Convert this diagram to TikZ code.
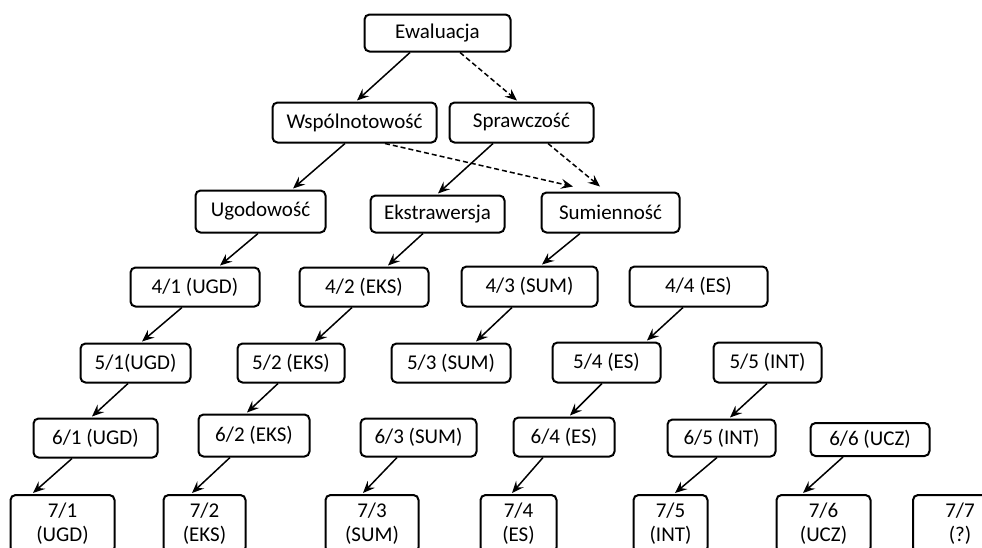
\documentclass[tikz,border=0pt]{standalone}
\usepackage{fontspec}
\setmainfont{Carlito}
\usetikzlibrary{arrows.meta}
\tikzset{
  box/.style={draw, line width=2pt, rounded corners=5pt, inner sep=0pt, font=\fontsize{21}{24}\selectfont},
  lowbox/.style={draw, line width=2pt, rounded corners=5pt, inner xsep=0pt, inner ysep=8pt, anchor=north, align=center, font=\fontsize{21}{24}\selectfont},
  arr/.style={line width=1.5pt, -{Stealth[length=12pt,width=10pt,inset=4.5pt]}},
  darr/.style={arr, dash pattern=on 5pt off 3pt}
}
\begin{document}
\begin{tikzpicture}[x=1pt,y=-1pt]
\useasboundingbox (0,0) rectangle (982,547);
\clip (0,0) rectangle (982,547);
% level 1-2
\node[box, minimum width=146pt, minimum height=37pt] (ew) at (437.5,33) {Ewaluacja};
\node[box, minimum width=164pt, minimum height=40pt] (wsp) at (354.5,122.5) {Wspólnotowość};
\node[box, minimum width=144pt, minimum height=40pt] (spr) at (521.5,122.5) {Sprawczość};
% level 3
\node[box, minimum width=130pt, minimum height=42pt] (ugo) at (260.5,211.5) {Ugodowość};
\node[box, minimum width=134pt, minimum height=37pt] (eks) at (437.5,214) {Ekstrawersja};
\node[box, minimum width=138pt, minimum height=40pt] (sum) at (610.5,212.5) {Sumienność};
% level 4
\node[box, minimum width=129pt, minimum height=39pt] (n41) at (195,287) {4/1 (UGD)};
\node[box, minimum width=129pt, minimum height=39pt] (n42) at (364,287) {4/2 (EKS)};
\node[box, minimum width=136pt, minimum height=40pt] (n43) at (529.5,286.5) {4/3 (SUM)};
\node[box, minimum width=138pt, minimum height=40pt] (n44) at (698.5,286.5) {4/4 (ES)};
% level 5
\node[box, minimum width=110pt, minimum height=39pt] (n51) at (135.5,363) {5/1(UGD)};
\node[box, minimum width=107pt, minimum height=39pt] (n52) at (291,363) {5/2 (EKS)};
\node[box, minimum width=119pt, minimum height=39pt] (n53) at (451,363) {5/3 (SUM)};
\node[box, minimum width=108pt, minimum height=40pt] (n54) at (606.5,362.5) {5/4 (ES)};
\node[box, minimum width=108pt, minimum height=40pt] (n55) at (767.5,362.5) {5/5 (INT)};
% level 6
\node[box, minimum width=124pt, minimum height=39pt] (n61) at (95.5,438) {6/1 (UGD)};
\node[box, minimum width=111pt, minimum height=42pt] (n62) at (254,435.5) {6/2 (EKS)};
\node[box, minimum width=116pt, minimum height=38pt] (n63) at (418.5,437.5) {6/3 (SUM)};
\node[box, minimum width=101pt, minimum height=39pt] (n64) at (564,437) {6/4 (ES)};
\node[box, minimum width=108pt, minimum height=37pt] (n65) at (721.5,438) {6/5 (INT)};
\node[box, minimum width=119pt, minimum height=33pt] (n66) at (870,439.5) {6/6 (UCZ)};
% level 7
\node[lowbox, minimum width=104pt] (n71) at (62.5,494) {7/1\\(UGD)};
\node[lowbox, minimum width=82pt] (n72) at (204.5,494) {7/2\\(EKS)};
\node[lowbox, minimum width=93pt] (n73) at (372,494) {7/3\\(SUM)};
\node[lowbox, minimum width=76pt] (n74) at (518.5,494) {7/4\\(ES)};
\node[lowbox, minimum width=74pt] (n75) at (670.5,494) {7/5\\(INT)};
\node[lowbox, minimum width=94pt] (n76) at (823.5,494) {7/6\\(UCZ)};
\node[lowbox, minimum width=94pt] (n77) at (960,494) {7/7\\(?)};
% connectors
\draw[arr] ([xshift=-27.5pt]ew.south) -- ([xshift=2.5pt,yshift=1pt]wsp.north);
\draw[darr] ([xshift=22.5pt]ew.south) -- ([xshift=-4.5pt,yshift=1pt]spr.north);
\draw[arr] ([xshift=-9.5pt]wsp.south) -- ([xshift=32.5pt,yshift=1pt]ugo.north);
\draw[darr] ([xshift=30.5pt]wsp.south) -- ([xshift=-37.5pt,yshift=5pt]sum.north);
\draw[arr] ([xshift=-28.5pt]spr.south) -- ([xshift=0.5pt,yshift=1pt]eks.north);
\draw[darr] ([xshift=26.5pt]spr.south) -- ([xshift=-10.5pt,yshift=5pt]sum.north);
\draw[arr] ([xshift=-2.5pt]ugo.south) -- ([xshift=25pt,yshift=1pt]n41.north);
\draw[arr] ([xshift=-14.5pt]eks.south) -- ([xshift=24pt,yshift=1pt]n42.north);
\draw[arr] ([xshift=-30.5pt]sum.south) -- ([xshift=12.5pt,yshift=1pt]n43.north);
\draw[arr] ([xshift=-13pt]n41.south) -- ([xshift=6.5pt,yshift=1pt]n51.north);
\draw[arr] ([xshift=-12pt]n42.south) -- ([xshift=24pt,yshift=1pt]n52.north);
\draw[arr] ([xshift=-17.5pt]n43.south) -- ([xshift=25pt,yshift=1pt]n53.north);
\draw[arr] ([xshift=-15.5pt]n44.south) -- ([xshift=40.5pt,yshift=1pt]n54.north);
\draw[arr] ([xshift=-7.5pt]n51.south) -- ([xshift=-3.5pt,yshift=1pt]n61.north);
\draw[arr] ([xshift=-13pt]n52.south) -- ([xshift=-7pt,yshift=1pt]n62.north);
\draw[arr] ([xshift=-4.5pt]n54.south) -- ([xshift=6pt,yshift=1pt]n64.north);
\draw[arr] ([xshift=-0.5pt]n55.south) -- ([xshift=8.5pt,yshift=1pt]n65.north);
\draw[arr] ([xshift=-23.5pt]n61.south) -- ([xshift=-29.5pt,yshift=1pt]n71.north);
\draw[arr] ([xshift=-24pt]n62.south) -- ([xshift=-12.5pt,yshift=1pt]n72.north);
\draw[arr] ([xshift=-21.5pt]n63.south) -- ([xshift=-9pt,yshift=1pt]n73.north);
\draw[arr] ([xshift=-21pt]n64.south) -- ([xshift=-6.5pt,yshift=1pt]n74.north);
\draw[arr] ([xshift=-4.5pt]n65.south) -- ([xshift=4.5pt,yshift=1pt]n75.north);
\draw[arr] ([xshift=-27pt]n66.south) -- ([xshift=-20.5pt,yshift=1pt]n76.north);
\end{tikzpicture}
\end{document}
